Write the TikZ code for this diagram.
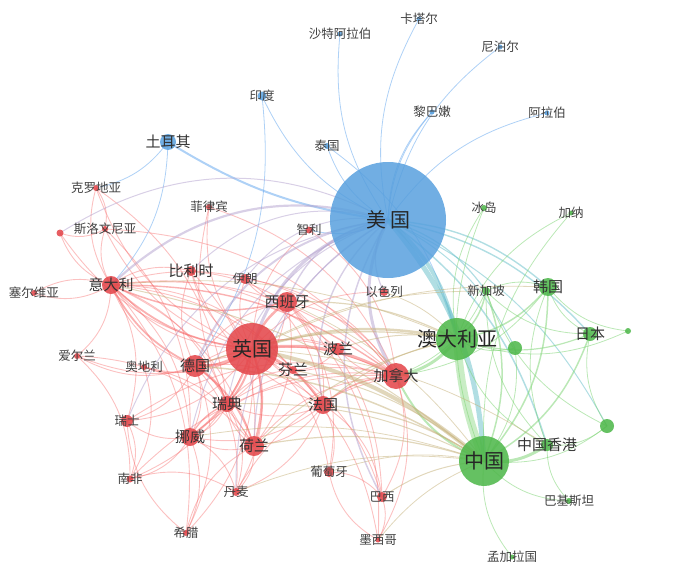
\documentclass[tikz,border=0pt]{standalone}
\usepackage{fontspec}
\newfontfamily\cjk{Noto Sans CJK SC}
\usetikzlibrary{positioning}
\pgfdeclarelayer{edges}
\pgfsetlayers{edges,main}
\definecolor{nred}{RGB}{228,72,76}
\definecolor{nblue}{RGB}{88,160,222}
\definecolor{ngreen}{RGB}{80,184,76}
\definecolor{ered}{RGB}{246,100,100}
\definecolor{eblue}{RGB}{120,178,240}
\definecolor{egreen}{RGB}{120,210,110}
\definecolor{epurp}{RGB}{178,160,205}
\definecolor{eteal}{RGB}{100,190,200}
\definecolor{etan}{RGB}{196,176,120}
\tikzset{
  rnode/.style={circle,inner sep=0pt,minimum size=#1,fill=nred,fill opacity=.88},
  bnode/.style={circle,inner sep=0pt,minimum size=#1,fill=nblue,fill opacity=.85},
  gnode/.style={circle,inner sep=0pt,minimum size=#1,fill=ngreen,fill opacity=.88},
  rnode/.default=8pt, bnode/.default=6pt, gnode/.default=8pt,
  big/.style={font=\cjk\fontsize{20}{20}\selectfont,text=black!85},
  mid/.style={font=\cjk\fontsize{15}{15}\selectfont,text=black!80},
  sml/.style={font=\cjk\fontsize{12.5}{12.5}\selectfont,text=black!75},
  redge/.style={draw=ered,draw opacity=.4,line width=#1},
  bedge/.style={draw=eblue,draw opacity=.6,line width=#1},
  gedge/.style={draw=egreen,draw opacity=.5,line width=#1},
  pedge/.style={draw=epurp,draw opacity=.5,line width=#1},
  tedge/.style={draw=eteal,draw opacity=.5,line width=#1},
  aedge/.style={draw=etan,draw opacity=.5,line width=#1},
  redge/.default=.9pt, bedge/.default=.8pt, gedge/.default=.8pt,
  pedge/.default=1pt, tedge/.default=1pt, aedge/.default=.9pt,
}
\begin{document}
\begin{tikzpicture}[x=1pt,y=-1pt]
	\useasboundingbox (0,0) rectangle (700,572);
	% blue cluster
	\node[bnode=116pt,label={[big]center:美\hspace{4pt}国}] (us) at (388,220) {};
	\node[bnode=16pt,label={[mid]center:土耳其}] (tr) at (168,142) {};
	\node[bnode=9pt,label={[sml]center:印度}] (in) at (262,96) {};
	\node[bnode,label={[sml]center:泰国}] (th) at (327,146) {};
	\node[bnode=5pt,label={[sml]center:卡塔尔}] (ka) at (419,19) {};
	\node[bnode=5pt,label={[sml]center:沙特阿拉伯}] (sa) at (340,34) {};
	\node[bnode=5pt,label={[sml]center:尼泊尔}] (np) at (500,47) {};
	\node[bnode=5pt,label={[sml]center:黎巴嫩}] (lb) at (432,112) {};
	\node[bnode=5pt,label={[sml]center:阿拉伯}] (ar) at (547,113) {};
	% red cluster
	\node[rnode=52pt,label={[big]center:英国}] (uk) at (252,349) {};
	\node[rnode=18pt,label={[mid]center:意大利}] (it) at (111,285) {};
	\node[rnode=22pt,label={[mid]center:德国}] (de) at (195,366) {};
	\node[rnode=20pt,label={[mid]center:西班牙}] (es) at (287,302) {};
	\node[rnode=18pt,label={[mid]center:法国}] (fr) at (323,405) {};
	\node[rnode=20pt,label={[mid]center:荷兰}] (nl) at (254,446) {};
	\node[rnode=16pt,label={[mid]center:瑞典}] (se) at (227,404) {};
	\node[rnode=18pt,label={[mid]center:挪威}] (no) at (190,437) {};
	\node[rnode=26pt,label={[mid]center:加拿大}] (ca) at (396,376) {};
	\node[rnode=12pt,label={[sml]center:瑞士}] (ch) at (127,421) {};
	\node[rnode=10pt,label={[mid]center:比利时}] (be) at (191,271) {};
	\node[rnode,label={[sml]center:丹麦}] (dk) at (236,492) {};
	\node[rnode,label={[mid]center:芬兰}] (fi) at (293,370) {};
	\node[rnode=12pt,label={[mid]center:波兰}] (pl) at (338,349) {};
	\node[rnode=6pt,label={[sml]center:奥地利}] (at) at (144,367) {};
	\node[rnode=6pt,label={[sml]center:爱尔兰}] (ie) at (77,356) {};
	\node[rnode=6pt,label={[sml]center:希腊}] (gr) at (186,533) {};
	\node[rnode=7pt,label={[sml]center:南非}] (za) at (130,479) {};
	\node[rnode=10pt,label={[sml]center:葡萄牙}] (pt) at (329,472) {};
	\node[rnode=10pt,label={[sml]center:巴西}] (br) at (382,497) {};
	\node[rnode=5pt,label={[sml]center:墨西哥}] (mx) at (378,540) {};
	\node[rnode=10pt,label={[sml]center:伊朗}] (ir) at (245,279) {};
	\node[rnode=6pt,label={[sml]center:菲律宾}] (ph) at (209,207) {};
	\node[rnode=6pt,label={[sml]center:克罗地亚}] (hr) at (96,188) {};
	\node[rnode=6pt,label={[sml]center:斯洛文尼亚}] (si) at (105,229) {};
	\node[rnode=6pt,label={[sml]center:塞尔维亚}] (rs) at (34,293) {};
	\node[rnode,label={[sml]center:以色列}] (il) at (384,292) {};
	\node[rnode=7pt,label={[sml]center:智利}] (cl) at (309,230) {};
	\node[rnode=7pt] (rx) at (60,233) {};
	% green cluster
	\node[gnode=50pt,label={[big]center:中国}] (cn) at (484,461) {};
	\node[gnode=42pt,label={[big]center:澳大利亚}] (au) at (457,339) {};
	\node[gnode=18pt,label={[mid]center:韩国}] (kr) at (548,287) {};
	\node[gnode=14pt,label={[mid]center:日本}] (jp) at (590,334) {};
	\node[gnode=12pt,label={[mid]center:中国香港}] (hk) at (547,445) {};
	\node[gnode,label={[sml]center:新加坡}] (sg) at (486,291) {};
	\node[gnode=6pt,label={[sml]center:冰岛}] (is) at (484,208) {};
	\node[gnode=5pt,label={[sml]center:加纳}] (gh) at (571,213) {};
	\node[gnode=6pt,label={[sml]center:巴基斯坦}] (pk) at (569,501) {};
	\node[gnode=5pt,label={[sml]center:孟加拉国}] (bd) at (512,557) {};
	\node[gnode=6pt] (ga) at (628,331) {};
	\node[gnode=14pt] (gb) at (515,348) {};
	\node[gnode=14pt] (gc) at (607,426) {};

	% connect the nodes
	\begin{pgfonlayer}{edges}
	\foreach \a/\b in {uk/it,uk/ch,uk/be,uk/dk,uk/fi,uk/at,uk/ie,uk/gr,uk/za,uk/pt,uk/br,uk/pl,uk/ir,uk/il,uk/cl,uk/mx,uk/ph,uk/si,uk/rx,uk/hr,
		de/it,de/es,de/fr,de/se,de/no,de/ch,de/at,de/be,de/dk,de/gr,de/ie,de/ca,de/pl,de/fi,
		it/es,it/fr,it/si,it/hr,it/rs,it/rx,it/ie,it/ch,it/be,it/gr,it/ca,it/nl,it/no,it/pl,it/fi,it/se,
		es/fr,es/pt,es/nl,es/ca,es/br,es/mx,es/ir,es/se,fr/nl,fr/be,fr/br,fr/pt,fr/se,fr/no,fr/dk,
		nl/se,nl/no,nl/dk,nl/ca,nl/ph,se/no,se/dk,se/fi,no/dk,no/gr,no/za,no/ch,no/ca,se/ca,
		ch/za,at/za,hr/si,si/rx,ie/za,br/mx,pt/br,ca/br,ca/mx,ca/pl,pl/fi,be/nl,ir/ca,be/ca,ir/fr,
		si/no,si/ca,hr/se,rs/it,ch/ca,dk/ca,gr/nl,za/ca,ph/ca,cl/ca,at/nl,ie/nl,gr/ch,za/dk,mx/pt}
		\draw[redge] (\a.center) to[bend left=24] (\b.center);
	\foreach \a/\b/\w in {uk/de/3pt,uk/ca/3pt,uk/es/2.5pt,uk/fr/2.5pt,uk/nl/2.5pt,uk/se/2pt,uk/no/2pt,de/nl/1.8pt,de/it/1.8pt,es/it/1.5pt,fr/ca/1.5pt,it/ca/1.4pt,de/se/1.4pt,no/se/1.4pt,uk/it/1.8pt}
		\draw[redge=\w,draw opacity=.5] (\a.center) to[bend left=18] (\b.center);
	\foreach \a/\b in {us/ka,us/sa,us/np,us/in,us/lb,us/ar,us/th,us/cl,tr/it,in/de,th/au,tr/hr}
		\draw[bedge] (\a.center) to[bend left=20] (\b.center);
	\draw[bedge=2pt] (tr.center) to[bend right=12] (us.center);
	\draw[bedge] (lb.center) to[bend right=18] (us.center);
	\foreach \a/\b/\w in {us/uk/3pt,us/it/2.2pt,us/de/2pt,us/es/1.4pt,us/fr/1.4pt,us/ca/3pt,us/nl/1.2pt,us/il/1.2pt,us/se/1pt,us/ch/1pt,us/be/1pt,us/br/1.5pt,us/ir/1pt,us/no/1pt,us/rx/1pt,us/dk/1pt}
		\draw[pedge=\w] (\a.center) to[bend right=30] (\b.center);
	\foreach \a/\b/\w in {us/cn/5pt,us/au/4pt,us/kr/1.4pt,us/sg/1.2pt,us/jp/1.4pt,us/hk/1.5pt,us/gb/1pt,us/gc/1pt}
		\draw[tedge=\w] (\a.center) to[bend left=18] (\b.center);
	\draw[gedge=8pt,draw opacity=.4] (cn.center) to[bend left=8] (au.center);
	\foreach \a/\b/\w in {cn/hk/3pt,cn/kr/1.5pt,cn/jp/1.5pt,cn/sg/1.5pt,au/sg/1.5pt,au/kr/1.5pt,au/jp/1.2pt,ca/au/3pt,ca/cn/2pt}
		\draw[gedge=\w] (\a.center) to[bend right=20] (\b.center);
	\foreach \a/\b in {cn/pk,cn/bd,cn/gc,cn/gb,au/gb,au/ga,kr/jp,kr/sg,hk/gc,jp/gc,is/cn,gh/cn,is/au,gh/au,hk/pk,sg/jp,kr/ga,sg/gc,kr/hk,au/hk,sg/hk,ca/sg,ca/kr}
		\draw[gedge] (\a.center) to[bend right=22] (\b.center);
	\foreach \a/\b/\w in {uk/cn/4pt,uk/au/2.5pt,de/cn/1.5pt,fr/cn/1.2pt,nl/cn/1.2pt,se/cn/1pt,br/cn/1pt,it/cn/1pt,es/au/1.2pt,de/au/1.2pt,nl/au/1pt,fi/cn/1pt,pl/au/1pt,pt/cn/.8pt,il/au/.8pt,fr/au/1pt,no/cn/.8pt,dk/cn/.8pt,mx/cn/.8pt,uk/kr/.8pt,uk/sg/.8pt,uk/hk/.8pt,it/au/.8pt,es/cn/.8pt}
		\draw[aedge=\w] (\a.center) to[bend left=14] (\b.center);
	\end{pgfonlayer}
\end{tikzpicture}
\end{document}
